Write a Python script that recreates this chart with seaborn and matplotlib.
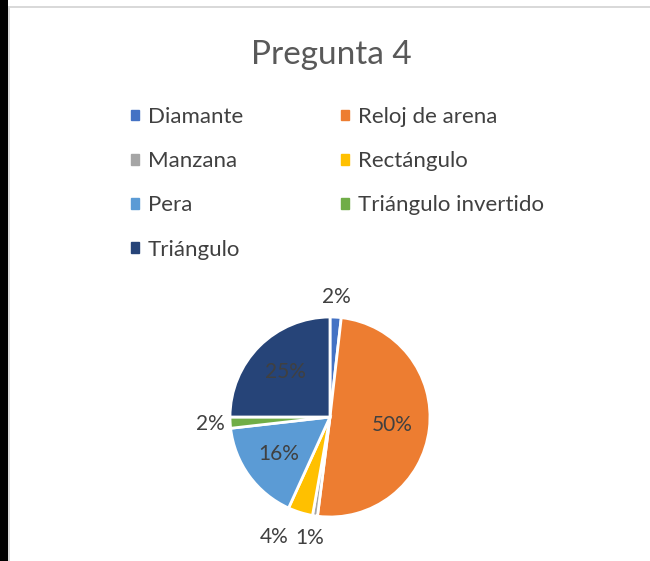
import numpy as np
import seaborn as sns
import matplotlib.pyplot as plt
import matplotlib.patches as mpatches

sns.set_theme(style="white")
plt.rcParams['font.family'] = ['Lato', 'DejaVu Sans']

labels = ['Diamante', 'Reloj de arena', 'Manzana', 'Rectángulo',
          'Pera', 'Triángulo invertido', 'Triángulo']
values = [1.8, 50.2, 0.8, 4.0, 16.4, 1.8, 25.0]
colors = ['#4472C4', '#ED7D31', '#A5A5A5', '#FFC000',
          '#5B9BD5', '#70AD47', '#264478']
palette = sns.color_palette(colors)
text_color = '#404040'

fig = plt.figure(figsize=(6.5, 5.61), dpi=100)
W, H = 650, 561

# frame pieces from the screenshot (black strip + grey chart border)
fig.patches.append(mpatches.Rectangle((0, 0), 8 / W, 1, transform=fig.transFigure,
                                      facecolor='black', edgecolor='none'))
fig.patches.append(mpatches.Rectangle((8 / W, 0), 2 / W, 1 - 6 / H, transform=fig.transFigure,
                                      facecolor='#d9d9d9', edgecolor='none'))
fig.patches.append(mpatches.Rectangle((8 / W, 1 - 8 / H), 1, 2 / H, transform=fig.transFigure,
                                      facecolor='#d9d9d9', edgecolor='none'))

fig.text(331 / W, 1 - 55 / H, 'Pregunta 4', ha='center', va='center',
         fontsize=24, color='#595959')

# pie
cx, cy, r = 330, 417, 100
ax = fig.add_axes([(cx - r) / W, (H - cy - r) / H, 2 * r / W, 2 * r / H])
wedges, _ = ax.pie(values, colors=palette, startangle=90, counterclock=False,
                   wedgeprops=dict(edgecolor='white', linewidth=2))
ax.set_aspect('equal')
ax.set_xlim(-1, 1)
ax.set_ylim(-1, 1)
ax.axis('off')

nudge = {'Rectángulo': (-0.2, -0.05), 'Manzana': (-0.02, -0.02)}
for w, lab, v in zip(wedges, labels, values):
    ang = np.deg2rad((w.theta1 + w.theta2) / 2)
    dist = 0.63 if v > 10 else 1.2
    x, y = dist * np.cos(ang), dist * np.sin(ang)
    dx, dy = nudge.get(lab, (0, 0))
    ax.text(x + dx, y + dy, f'{round(v):.0f}%', ha='center', va='center',
            fontsize=15, color=text_color, clip_on=False)

# legend, row-wise order in two columns
order = [0, 2, 4, 6, 1, 3, 5]
handles = [mpatches.Patch(color=palette[i], label=labels[i]) for i in order]
fig.legend(handles=handles, ncol=2, loc='upper left',
           bbox_to_anchor=(131 / W, 1 - 107 / H), frameon=False,
           fontsize=16, labelcolor=text_color,
           handlelength=0.36, handleheight=0.36, handletextpad=0.4,
           labelspacing=1.09, columnspacing=4.4, borderpad=0, borderaxespad=0)

fig.savefig('out.png', dpi=100, facecolor='white')
